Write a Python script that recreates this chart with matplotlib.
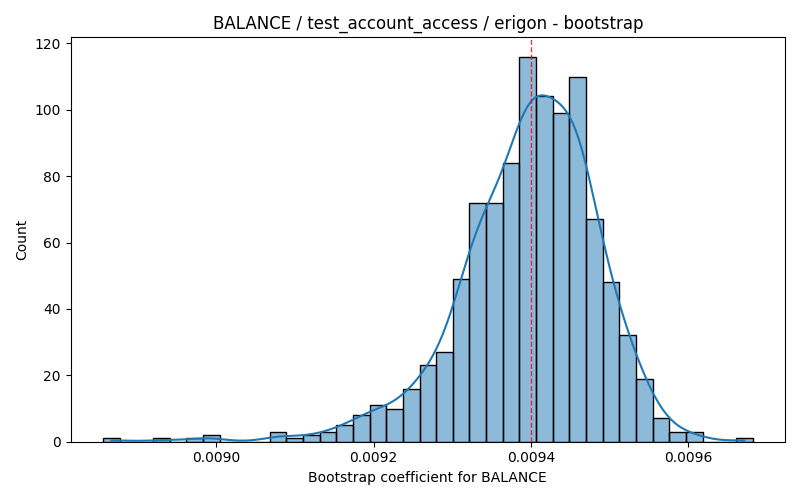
import numpy as np
import matplotlib
matplotlib.use("Agg")
import matplotlib.pyplot as plt
import seaborn as sns

# bin layout (39 equal bins)
bin_start = 0.0088565
bin_stop = 0.0096815
n_bins = 39
counts = [1, 0, 0, 1, 0, 1, 2, 0, 0, 0,
          3, 1, 2, 3, 5, 8, 11, 10, 16, 23,
          27, 49, 72, 72, 84, 116, 104, 99, 110, 67,
          48, 32, 19, 7, 3, 3, 0, 0, 1]
point_estimate = 0.0094005

edges = np.linspace(bin_start, bin_stop, n_bins + 1)
centers = (edges[:-1] + edges[1:]) / 2
# rebuild the bootstrap sample from the bar heights
samples = np.repeat(centers, counts)

fig, ax = plt.subplots(figsize=(8, 5), dpi=100)
sns.histplot(x=samples, bins=edges, kde=True, ax=ax)
ax.axvline(point_estimate, color="red", linestyle="--", linewidth=1, alpha=0.8)
ax.set_title("BALANCE / test_account_access / erigon - bootstrap")
ax.set_xlabel("Bootstrap coefficient for BALANCE")
ax.set_ylabel("Count")
fig.tight_layout()
fig.savefig("out.png")
